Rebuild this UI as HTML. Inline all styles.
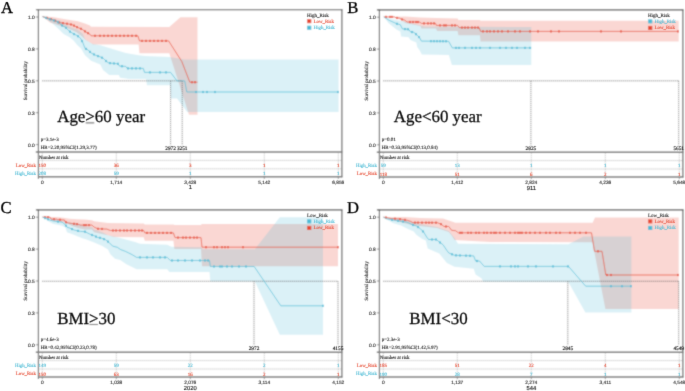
<!DOCTYPE html>
<html><head><meta charset="utf-8"><title>KM curves</title>
<style>html,body{margin:0;padding:0;background:#fff;}svg{display:block;text-rendering:geometricPrecision;}</style>
</head><body>
<svg width="685" height="391" viewBox="0 0 685 391">
<defs><filter id="bl" x="0" y="0" width="685" height="391" filterUnits="userSpaceOnUse"><feConvolveMatrix order="3" kernelMatrix="1 2 1 2 8 2 1 2 1" edgeMode="duplicate"/></filter><filter id="bl2" x="0" y="0" width="685" height="391" filterUnits="userSpaceOnUse"><feConvolveMatrix order="3" kernelMatrix="0 1 0 1 8 1 0 1 0" edgeMode="none" preserveAlpha="false"/></filter></defs>
<g filter="url(#bl)"><rect width="685" height="391" fill="#fff"/>
<g transform="translate(0,0)">
<line x1="35.8" y1="17.0" x2="38.4" y2="17.0" stroke="#555" stroke-width="0.6"/>
<line x1="35.8" y1="48.9" x2="38.4" y2="48.9" stroke="#555" stroke-width="0.6"/>
<line x1="35.8" y1="80.8" x2="38.4" y2="80.8" stroke="#555" stroke-width="0.6"/>
<line x1="35.8" y1="112.7" x2="38.4" y2="112.7" stroke="#555" stroke-width="0.6"/>
<line x1="35.8" y1="144.6" x2="38.4" y2="144.6" stroke="#555" stroke-width="0.6"/>
<polygon points="42.5,16.6 52.7,17.1 65.3,19.2 78.0,21.3 85.6,23.8 90.0,25.5 91.0,26.8 169.3,27.1 180.4,17.3 197.5,17.3 197.5,114.7 189.0,114.7 169.3,53.3 139.5,53.3 138.6,44.5 93.0,44.5 90.0,42.4 85.6,39.9 82.2,36.5 76.3,32.3 69.6,28.9 59.4,25.5 50.0,22.5 45.0,18.5 42.5,16.6" fill="#E64B35" fill-opacity="0.22"/>
<polygon points="42.5,16.6 52.7,18.8 59.4,20.4 64.0,23.5 69.6,26.8 78.0,29.7 83.0,34.0 85.0,39.2 92.0,43.8 100.3,45.3 115.7,50.0 125.7,53.0 138.7,55.3 145.0,56.0 169.3,57.1 184.7,59.5 338.6,59.5 338.6,112.0 187.2,112.0 177.0,98.4 171.0,98.4 170.0,85.3 147.0,85.3 146.0,79.1 128.0,79.1 125.7,78.5 120.0,77.7 118.9,75.1 109.2,74.9 103.0,70.0 100.3,64.5 91.1,60.7 85.0,55.3 81.0,48.5 77.2,45.0 73.8,40.7 69.6,37.3 63.6,34.0 59.4,29.7 52.7,23.8 45.1,18.3 42.5,16.6" fill="#4DBBD5" fill-opacity="0.2"/>
<line x1="42.3" y1="80.85" x2="182.1" y2="80.85" stroke="#444" stroke-width="0.75" stroke-dasharray="1 1"/>
<line x1="170.6" y1="80.85" x2="170.6" y2="145.3" stroke="#444" stroke-width="0.75" stroke-dasharray="1 1"/>
<line x1="182.2" y1="80.85" x2="182.2" y2="145.3" stroke="#444" stroke-width="0.75" stroke-dasharray="1 1"/>
<polyline points="42.5,16.6 48.4,18.3 52.7,19.6 59.4,22.6 65.3,23.4 72.1,24.7 78.0,27.6 82.2,29.3 85.6,31.8 89.9,34.2 91.1,35.8 137.9,35.8 139.5,40.9 168.6,40.9 181.8,61.5 189.8,82.2 197.5,82.2" fill="none" stroke="#E64B35" stroke-width="0.7" stroke-linejoin="round"/>
<rect x="46.25" y="16.80" width="1.5" height="2.2" fill="#E64B35"/>
<rect x="50.25" y="17.99" width="1.5" height="2.2" fill="#E64B35"/>
<rect x="54.25" y="19.53" width="1.5" height="2.2" fill="#E64B35"/>
<rect x="58.25" y="21.32" width="1.5" height="2.2" fill="#E64B35"/>
<rect x="62.25" y="21.99" width="1.5" height="2.2" fill="#E64B35"/>
<rect x="66.25" y="22.62" width="1.5" height="2.2" fill="#E64B35"/>
<rect x="70.25" y="23.39" width="1.5" height="2.2" fill="#E64B35"/>
<rect x="73.25" y="24.53" width="1.5" height="2.2" fill="#E64B35"/>
<rect x="76.25" y="26.01" width="1.5" height="2.2" fill="#E64B35"/>
<rect x="80.25" y="27.71" width="1.5" height="2.2" fill="#E64B35"/>
<rect x="84.25" y="30.26" width="1.5" height="2.2" fill="#E64B35"/>
<rect x="87.25" y="32.04" width="1.5" height="2.2" fill="#E64B35"/>
<rect x="94.25" y="34.70" width="1.5" height="2.2" fill="#E64B35"/>
<rect x="99.25" y="34.70" width="1.5" height="2.2" fill="#E64B35"/>
<rect x="103.25" y="34.70" width="1.5" height="2.2" fill="#E64B35"/>
<rect x="107.25" y="34.70" width="1.5" height="2.2" fill="#E64B35"/>
<rect x="111.25" y="34.70" width="1.5" height="2.2" fill="#E64B35"/>
<rect x="115.25" y="34.70" width="1.5" height="2.2" fill="#E64B35"/>
<rect x="119.25" y="34.70" width="1.5" height="2.2" fill="#E64B35"/>
<rect x="123.25" y="34.70" width="1.5" height="2.2" fill="#E64B35"/>
<rect x="127.25" y="34.70" width="1.5" height="2.2" fill="#E64B35"/>
<rect x="131.25" y="34.70" width="1.5" height="2.2" fill="#E64B35"/>
<rect x="135.25" y="34.70" width="1.5" height="2.2" fill="#E64B35"/>
<rect x="141.25" y="39.80" width="1.5" height="2.2" fill="#E64B35"/>
<rect x="145.25" y="39.80" width="1.5" height="2.2" fill="#E64B35"/>
<rect x="149.25" y="39.80" width="1.5" height="2.2" fill="#E64B35"/>
<rect x="153.25" y="39.80" width="1.5" height="2.2" fill="#E64B35"/>
<rect x="157.25" y="39.80" width="1.5" height="2.2" fill="#E64B35"/>
<rect x="161.25" y="39.80" width="1.5" height="2.2" fill="#E64B35"/>
<rect x="165.25" y="39.80" width="1.5" height="2.2" fill="#E64B35"/>
<rect x="191.25" y="81.10" width="1.5" height="2.2" fill="#E64B35"/>
<rect x="194.25" y="81.10" width="1.5" height="2.2" fill="#E64B35"/>
<polyline points="42.5,16.6 48.4,18.8 56.9,21.3 62.0,25.5 65.3,27.2 69.6,31.4 73.8,34.0 77.2,35.6 80.5,38.2 83.1,43.2 85.0,48.4 88.1,50.0 91.1,53.0 95.7,55.3 100.3,56.9 103.4,58.4 106.5,61.5 108.8,63.0 118.0,63.8 119.5,66.1 125.7,66.4 127.2,68.4 143.3,68.4 144.5,72.4 170.6,72.4 177.0,80.9 184.7,80.9 186.8,92.0 338.6,92.0" fill="none" stroke="#4DBBD5" stroke-width="0.7" stroke-linejoin="round"/>
<rect x="45.25" y="16.81" width="1.5" height="2.2" fill="#4DBBD5"/>
<rect x="49.25" y="18.17" width="1.5" height="2.2" fill="#4DBBD5"/>
<rect x="53.25" y="19.35" width="1.5" height="2.2" fill="#4DBBD5"/>
<rect x="57.25" y="21.11" width="1.5" height="2.2" fill="#4DBBD5"/>
<rect x="61.25" y="24.40" width="1.5" height="2.2" fill="#4DBBD5"/>
<rect x="65.25" y="26.78" width="1.5" height="2.2" fill="#4DBBD5"/>
<rect x="69.25" y="30.55" width="1.5" height="2.2" fill="#4DBBD5"/>
<rect x="73.25" y="32.99" width="1.5" height="2.2" fill="#4DBBD5"/>
<rect x="77.25" y="35.13" width="1.5" height="2.2" fill="#4DBBD5"/>
<rect x="81.25" y="39.98" width="1.5" height="2.2" fill="#4DBBD5"/>
<rect x="85.25" y="47.82" width="1.5" height="2.2" fill="#4DBBD5"/>
<rect x="89.25" y="50.80" width="1.5" height="2.2" fill="#4DBBD5"/>
<rect x="93.25" y="53.35" width="1.5" height="2.2" fill="#4DBBD5"/>
<rect x="97.25" y="55.00" width="1.5" height="2.2" fill="#4DBBD5"/>
<rect x="101.25" y="56.62" width="1.5" height="2.2" fill="#4DBBD5"/>
<rect x="105.25" y="59.90" width="1.5" height="2.2" fill="#4DBBD5"/>
<rect x="109.25" y="62.00" width="1.5" height="2.2" fill="#4DBBD5"/>
<rect x="113.25" y="62.35" width="1.5" height="2.2" fill="#4DBBD5"/>
<rect x="117.25" y="62.70" width="1.5" height="2.2" fill="#4DBBD5"/>
<rect x="121.25" y="65.12" width="1.5" height="2.2" fill="#4DBBD5"/>
<rect x="127.25" y="67.30" width="1.5" height="2.2" fill="#4DBBD5"/>
<rect x="131.25" y="67.30" width="1.5" height="2.2" fill="#4DBBD5"/>
<rect x="135.25" y="67.30" width="1.5" height="2.2" fill="#4DBBD5"/>
<rect x="139.25" y="67.30" width="1.5" height="2.2" fill="#4DBBD5"/>
<rect x="149.25" y="71.30" width="1.5" height="2.2" fill="#4DBBD5"/>
<rect x="159.25" y="71.30" width="1.5" height="2.2" fill="#4DBBD5"/>
<rect x="165.25" y="71.30" width="1.5" height="2.2" fill="#4DBBD5"/>
<rect x="195.25" y="90.90" width="1.5" height="2.2" fill="#4DBBD5"/>
<rect x="202.25" y="90.90" width="1.5" height="2.2" fill="#4DBBD5"/>
<rect x="206.25" y="90.90" width="1.5" height="2.2" fill="#4DBBD5"/>
<rect x="214.25" y="90.90" width="1.5" height="2.2" fill="#4DBBD5"/>
<rect x="337.25" y="90.90" width="1.5" height="2.2" fill="#4DBBD5"/>
<rect x="307.1" y="19.1" width="4.2" height="4.1" fill="#E64B35"/>
<rect x="307.1" y="25.7" width="4.2" height="4.1" fill="#4DBBD5"/>
<rect x="85.66" y="122.45" width="8.6" height="0.85" fill="#333"/>
<line x1="35.9" y1="9.7" x2="342.4" y2="9.7" stroke="#555" stroke-width="1.1"/>
<line x1="38.4" y1="9.2" x2="38.4" y2="178.8" stroke="#555" stroke-width="1.1"/>
<line x1="341.9" y1="9.2" x2="341.9" y2="177.3" stroke="#555" stroke-width="1.1"/>
<line x1="35.8" y1="152.0" x2="342.4" y2="152.0" stroke="#777" stroke-width="1.4"/>
<line x1="38.4" y1="176.8" x2="342.4" y2="176.8" stroke="#777" stroke-width="1.4"/>
<line x1="38.4" y1="160.4" x2="341.9" y2="160.4" stroke="#888" stroke-width="0.6" stroke-dasharray="1 1"/>
<line x1="38.4" y1="168.8" x2="341.9" y2="168.8" stroke="#888" stroke-width="0.6" stroke-dasharray="1 1"/>
<line x1="42.3" y1="152.6" x2="42.3" y2="176.2" stroke="#999" stroke-width="0.6" stroke-dasharray="1 1"/>
<line x1="42.3" y1="177.3" x2="42.3" y2="179.0" stroke="#555" stroke-width="0.6"/>
<line x1="116.3" y1="152.6" x2="116.3" y2="176.2" stroke="#999" stroke-width="0.6" stroke-dasharray="1 1"/>
<line x1="116.3" y1="177.3" x2="116.3" y2="179.0" stroke="#555" stroke-width="0.6"/>
<line x1="190.3" y1="152.6" x2="190.3" y2="176.2" stroke="#999" stroke-width="0.6" stroke-dasharray="1 1"/>
<line x1="190.3" y1="177.3" x2="190.3" y2="179.0" stroke="#555" stroke-width="0.6"/>
<line x1="264.3" y1="152.6" x2="264.3" y2="176.2" stroke="#999" stroke-width="0.6" stroke-dasharray="1 1"/>
<line x1="264.3" y1="177.3" x2="264.3" y2="179.0" stroke="#555" stroke-width="0.6"/>
<line x1="338.3" y1="152.6" x2="338.3" y2="176.2" stroke="#999" stroke-width="0.6" stroke-dasharray="1 1"/>
<line x1="338.3" y1="177.3" x2="338.3" y2="179.0" stroke="#555" stroke-width="0.6"/>
</g>
<g transform="translate(341.0,0.2)">
<line x1="35.8" y1="17.0" x2="38.4" y2="17.0" stroke="#555" stroke-width="0.6"/>
<line x1="35.8" y1="48.9" x2="38.4" y2="48.9" stroke="#555" stroke-width="0.6"/>
<line x1="35.8" y1="80.8" x2="38.4" y2="80.8" stroke="#555" stroke-width="0.6"/>
<line x1="35.8" y1="112.7" x2="38.4" y2="112.7" stroke="#555" stroke-width="0.6"/>
<line x1="35.8" y1="144.6" x2="38.4" y2="144.6" stroke="#555" stroke-width="0.6"/>
<polygon points="42.8,16.7 64.3,16.4 79.5,17.3 95.3,17.7 116.6,18.4 117.4,19.8 138.9,19.8 139.6,20.6 337.7,20.6 337.7,41.2 139.6,41.2 138.9,35.1 117.4,35.1 116.6,30.8 96.1,30.8 95.0,28.3 80.4,28.3 79.5,25.7 64.3,22.8 60.1,19.8 53.4,17.3 42.8,16.7" fill="#E64B35" fill-opacity="0.22"/>
<polygon points="42.8,16.7 47.4,18.1 55.9,19.8 64.3,21.5 79.5,25.3 84.0,26.3 190.3,26.8 190.3,64.9 110.9,64.9 107.8,54.7 80.8,54.3 78.5,49.7 76.2,46.7 75.3,42.2 69.4,39.7 67.7,37.1 60.1,36.3 59.3,31.2 55.9,29.5 51.7,26.2 47.4,22.8 44.9,19.4 42.8,16.7" fill="#4DBBD5" fill-opacity="0.2"/>
<line x1="42.3" y1="80.65" x2="337.7" y2="80.65" stroke="#444" stroke-width="0.75" stroke-dasharray="1 1"/>
<line x1="189.9" y1="80.65" x2="189.9" y2="145.3" stroke="#444" stroke-width="0.75" stroke-dasharray="1 1"/>
<line x1="337.7" y1="80.65" x2="337.7" y2="145.3" stroke="#444" stroke-width="0.75" stroke-dasharray="1 1"/>
<polyline points="42.8,16.7 53.4,16.7 55.0,17.7 58.4,17.9 60.1,19.0 63.5,19.8 65.2,21.1 66.0,21.8 76.2,21.8 78.7,21.9 80.4,23.2 94.6,23.2 95.3,25.2 116.6,25.2 118.2,27.4 138.1,27.4 139.6,31.2 337.7,31.2" fill="none" stroke="#E64B35" stroke-width="0.7" stroke-linejoin="round"/>
<rect x="44.25" y="15.60" width="1.5" height="2.2" fill="#E64B35"/>
<rect x="48.25" y="15.60" width="1.5" height="2.2" fill="#E64B35"/>
<rect x="50.25" y="15.60" width="1.5" height="2.2" fill="#E64B35"/>
<rect x="55.25" y="16.66" width="1.5" height="2.2" fill="#E64B35"/>
<rect x="60.25" y="18.11" width="1.5" height="2.2" fill="#E64B35"/>
<rect x="68.25" y="20.70" width="1.5" height="2.2" fill="#E64B35"/>
<rect x="71.25" y="20.70" width="1.5" height="2.2" fill="#E64B35"/>
<rect x="74.25" y="20.70" width="1.5" height="2.2" fill="#E64B35"/>
<rect x="76.25" y="20.73" width="1.5" height="2.2" fill="#E64B35"/>
<rect x="82.25" y="22.10" width="1.5" height="2.2" fill="#E64B35"/>
<rect x="86.25" y="22.10" width="1.5" height="2.2" fill="#E64B35"/>
<rect x="89.25" y="22.10" width="1.5" height="2.2" fill="#E64B35"/>
<rect x="92.25" y="22.10" width="1.5" height="2.2" fill="#E64B35"/>
<rect x="98.25" y="24.10" width="1.5" height="2.2" fill="#E64B35"/>
<rect x="102.25" y="24.10" width="1.5" height="2.2" fill="#E64B35"/>
<rect x="104.25" y="24.10" width="1.5" height="2.2" fill="#E64B35"/>
<rect x="110.25" y="24.10" width="1.5" height="2.2" fill="#E64B35"/>
<rect x="113.25" y="24.10" width="1.5" height="2.2" fill="#E64B35"/>
<rect x="120.25" y="26.30" width="1.5" height="2.2" fill="#E64B35"/>
<rect x="123.25" y="26.30" width="1.5" height="2.2" fill="#E64B35"/>
<rect x="126.25" y="26.30" width="1.5" height="2.2" fill="#E64B35"/>
<rect x="130.25" y="26.30" width="1.5" height="2.2" fill="#E64B35"/>
<rect x="133.25" y="26.30" width="1.5" height="2.2" fill="#E64B35"/>
<rect x="136.25" y="26.30" width="1.5" height="2.2" fill="#E64B35"/>
<rect x="141.25" y="30.10" width="1.5" height="2.2" fill="#E64B35"/>
<rect x="145.25" y="30.10" width="1.5" height="2.2" fill="#E64B35"/>
<rect x="148.25" y="30.10" width="1.5" height="2.2" fill="#E64B35"/>
<rect x="152.25" y="30.10" width="1.5" height="2.2" fill="#E64B35"/>
<rect x="156.25" y="30.10" width="1.5" height="2.2" fill="#E64B35"/>
<rect x="160.25" y="30.10" width="1.5" height="2.2" fill="#E64B35"/>
<rect x="166.25" y="30.10" width="1.5" height="2.2" fill="#E64B35"/>
<rect x="173.25" y="30.10" width="1.5" height="2.2" fill="#E64B35"/>
<rect x="178.25" y="30.10" width="1.5" height="2.2" fill="#E64B35"/>
<rect x="188.25" y="30.10" width="1.5" height="2.2" fill="#E64B35"/>
<rect x="196.25" y="30.10" width="1.5" height="2.2" fill="#E64B35"/>
<rect x="209.25" y="30.10" width="1.5" height="2.2" fill="#E64B35"/>
<rect x="217.25" y="30.10" width="1.5" height="2.2" fill="#E64B35"/>
<rect x="259.25" y="30.10" width="1.5" height="2.2" fill="#E64B35"/>
<rect x="279.25" y="30.10" width="1.5" height="2.2" fill="#E64B35"/>
<rect x="336.25" y="30.10" width="1.5" height="2.2" fill="#E64B35"/>
<polyline points="42.8,16.7 45.8,18.6 48.3,20.2 55.9,23.6 59.3,24.5 61.4,28.7 67.7,29.1 69.4,31.6 72.8,32.1 76.2,35.0 78.7,37.6 80.4,40.9 107.6,41.1 111.3,47.7 190.3,47.7" fill="none" stroke="#4DBBD5" stroke-width="0.7" stroke-linejoin="round"/>
<rect x="55.25" y="22.53" width="1.5" height="2.2" fill="#4DBBD5"/>
<rect x="63.25" y="27.77" width="1.5" height="2.2" fill="#4DBBD5"/>
<rect x="66.25" y="27.96" width="1.5" height="2.2" fill="#4DBBD5"/>
<rect x="70.25" y="30.74" width="1.5" height="2.2" fill="#4DBBD5"/>
<rect x="74.25" y="32.88" width="1.5" height="2.2" fill="#4DBBD5"/>
<rect x="77.25" y="35.77" width="1.5" height="2.2" fill="#4DBBD5"/>
<rect x="89.25" y="39.87" width="1.5" height="2.2" fill="#4DBBD5"/>
<rect x="92.25" y="39.89" width="1.5" height="2.2" fill="#4DBBD5"/>
<rect x="95.25" y="39.91" width="1.5" height="2.2" fill="#4DBBD5"/>
<rect x="98.25" y="39.94" width="1.5" height="2.2" fill="#4DBBD5"/>
<rect x="101.25" y="39.96" width="1.5" height="2.2" fill="#4DBBD5"/>
<rect x="104.25" y="39.98" width="1.5" height="2.2" fill="#4DBBD5"/>
<rect x="114.25" y="46.60" width="1.5" height="2.2" fill="#4DBBD5"/>
<rect x="117.25" y="46.60" width="1.5" height="2.2" fill="#4DBBD5"/>
<rect x="123.25" y="46.60" width="1.5" height="2.2" fill="#4DBBD5"/>
<rect x="130.25" y="46.60" width="1.5" height="2.2" fill="#4DBBD5"/>
<rect x="134.25" y="46.60" width="1.5" height="2.2" fill="#4DBBD5"/>
<rect x="138.25" y="46.60" width="1.5" height="2.2" fill="#4DBBD5"/>
<rect x="148.25" y="46.60" width="1.5" height="2.2" fill="#4DBBD5"/>
<rect x="158.25" y="46.60" width="1.5" height="2.2" fill="#4DBBD5"/>
<rect x="164.25" y="46.60" width="1.5" height="2.2" fill="#4DBBD5"/>
<rect x="170.25" y="46.60" width="1.5" height="2.2" fill="#4DBBD5"/>
<rect x="175.25" y="46.60" width="1.5" height="2.2" fill="#4DBBD5"/>
<rect x="183.25" y="46.60" width="1.5" height="2.2" fill="#4DBBD5"/>
<rect x="188.25" y="46.60" width="1.5" height="2.2" fill="#4DBBD5"/>
<rect x="307.1" y="19.1" width="4.2" height="4.1" fill="#4DBBD5"/>
<rect x="307.1" y="25.7" width="4.2" height="4.1" fill="#E64B35"/>
<line x1="35.9" y1="9.7" x2="342.4" y2="9.7" stroke="#555" stroke-width="1.1"/>
<line x1="38.4" y1="9.2" x2="38.4" y2="178.8" stroke="#555" stroke-width="1.1"/>
<line x1="341.9" y1="9.2" x2="341.9" y2="177.3" stroke="#555" stroke-width="1.1"/>
<line x1="35.8" y1="152.0" x2="342.4" y2="152.0" stroke="#777" stroke-width="1.4"/>
<line x1="38.4" y1="176.8" x2="342.4" y2="176.8" stroke="#777" stroke-width="1.4"/>
<line x1="38.4" y1="160.4" x2="341.9" y2="160.4" stroke="#888" stroke-width="0.6" stroke-dasharray="1 1"/>
<line x1="38.4" y1="168.8" x2="341.9" y2="168.8" stroke="#888" stroke-width="0.6" stroke-dasharray="1 1"/>
<line x1="42.3" y1="152.6" x2="42.3" y2="176.2" stroke="#999" stroke-width="0.6" stroke-dasharray="1 1"/>
<line x1="42.3" y1="177.3" x2="42.3" y2="179.0" stroke="#555" stroke-width="0.6"/>
<line x1="116.3" y1="152.6" x2="116.3" y2="176.2" stroke="#999" stroke-width="0.6" stroke-dasharray="1 1"/>
<line x1="116.3" y1="177.3" x2="116.3" y2="179.0" stroke="#555" stroke-width="0.6"/>
<line x1="190.3" y1="152.6" x2="190.3" y2="176.2" stroke="#999" stroke-width="0.6" stroke-dasharray="1 1"/>
<line x1="190.3" y1="177.3" x2="190.3" y2="179.0" stroke="#555" stroke-width="0.6"/>
<line x1="264.3" y1="152.6" x2="264.3" y2="176.2" stroke="#999" stroke-width="0.6" stroke-dasharray="1 1"/>
<line x1="264.3" y1="177.3" x2="264.3" y2="179.0" stroke="#555" stroke-width="0.6"/>
<line x1="338.3" y1="152.6" x2="338.3" y2="176.2" stroke="#999" stroke-width="0.6" stroke-dasharray="1 1"/>
<line x1="338.3" y1="177.3" x2="338.3" y2="179.0" stroke="#555" stroke-width="0.6"/>
</g>
<g transform="translate(0,200.2)">
<line x1="35.8" y1="17.0" x2="38.4" y2="17.0" stroke="#555" stroke-width="0.6"/>
<line x1="35.8" y1="48.9" x2="38.4" y2="48.9" stroke="#555" stroke-width="0.6"/>
<line x1="35.8" y1="80.8" x2="38.4" y2="80.8" stroke="#555" stroke-width="0.6"/>
<line x1="35.8" y1="112.7" x2="38.4" y2="112.7" stroke="#555" stroke-width="0.6"/>
<line x1="35.8" y1="144.6" x2="38.4" y2="144.6" stroke="#555" stroke-width="0.6"/>
<polygon points="42.5,16.9 56.9,16.9 65.3,17.7 69.6,18.6 78.0,19.0 85.0,19.4 91.9,20.0 94.2,21.1 108.0,22.9 143.7,23.4 144.8,24.2 173.4,24.2 174.4,24.8 201.0,24.8 201.7,23.8 338.0,23.8 338.0,66.0 202.0,66.0 201.0,48.7 174.4,48.7 173.4,40.5 144.8,40.5 143.7,37.0 113.8,36.7 108.0,35.0 94.2,32.1 91.9,29.4 85.0,29.2 78.0,27.8 72.0,25.8 65.3,22.3 56.0,21.3 50.0,18.3 42.5,16.9" fill="#E64B35" fill-opacity="0.22"/>
<polygon points="42.5,16.9 50.3,18.2 58.0,20.3 65.3,21.9 78.0,23.6 85.0,26.3 91.9,26.8 94.2,29.2 102.3,32.1 108.0,35.0 118.4,37.3 135.0,41.9 140.0,43.5 167.3,44.6 171.3,46.6 201.7,47.0 202.5,49.0 254.9,49.0 279.8,17.1 323.0,17.1 323.0,134.5 279.8,134.5 254.9,81.3 210.3,81.3 209.5,71.8 169.3,71.8 167.3,69.1 136.6,69.1 126.4,64.0 120.2,59.9 115.0,58.6 110.3,54.0 108.0,49.4 102.3,45.9 94.2,42.4 86.5,39.3 82.2,38.0 78.0,36.3 73.8,34.6 67.0,32.1 65.3,27.0 61.1,25.3 52.7,23.6 48.4,21.1 45.1,18.1 42.5,16.9" fill="#4DBBD5" fill-opacity="0.2"/>
<line x1="42.3" y1="81.05" x2="338.0" y2="81.05" stroke="#444" stroke-width="0.75" stroke-dasharray="1 1"/>
<line x1="254.0" y1="81.05" x2="254.0" y2="145.3" stroke="#444" stroke-width="0.75" stroke-dasharray="1 1"/>
<line x1="338.0" y1="81.05" x2="338.0" y2="145.3" stroke="#444" stroke-width="0.75" stroke-dasharray="1 1"/>
<polyline points="42.5,16.9 50.1,16.9 51.0,19.0 56.9,19.0 57.7,19.4 64.5,19.8 65.3,21.9 68.7,22.8 73.8,23.6 78.0,24.0 80.5,24.9 91.9,24.9 94.2,26.9 97.7,28.6 106.9,28.9 110.3,30.3 143.7,30.3 144.8,32.7 173.4,32.7 175.0,37.4 201.0,37.4 202.0,47.0 338.0,47.0" fill="none" stroke="#E64B35" stroke-width="0.7" stroke-linejoin="round"/>
<rect x="44.25" y="15.80" width="1.5" height="2.2" fill="#E64B35"/>
<rect x="47.25" y="15.80" width="1.5" height="2.2" fill="#E64B35"/>
<rect x="53.25" y="17.90" width="1.5" height="2.2" fill="#E64B35"/>
<rect x="59.25" y="18.44" width="1.5" height="2.2" fill="#E64B35"/>
<rect x="65.25" y="20.99" width="1.5" height="2.2" fill="#E64B35"/>
<rect x="73.25" y="22.52" width="1.5" height="2.2" fill="#E64B35"/>
<rect x="76.25" y="22.80" width="1.5" height="2.2" fill="#E64B35"/>
<rect x="83.25" y="23.80" width="1.5" height="2.2" fill="#E64B35"/>
<rect x="85.25" y="23.80" width="1.5" height="2.2" fill="#E64B35"/>
<rect x="88.25" y="23.80" width="1.5" height="2.2" fill="#E64B35"/>
<rect x="97.25" y="27.51" width="1.5" height="2.2" fill="#E64B35"/>
<rect x="101.25" y="27.64" width="1.5" height="2.2" fill="#E64B35"/>
<rect x="112.25" y="29.20" width="1.5" height="2.2" fill="#E64B35"/>
<rect x="115.25" y="29.20" width="1.5" height="2.2" fill="#E64B35"/>
<rect x="119.25" y="29.20" width="1.5" height="2.2" fill="#E64B35"/>
<rect x="123.25" y="29.20" width="1.5" height="2.2" fill="#E64B35"/>
<rect x="126.25" y="29.20" width="1.5" height="2.2" fill="#E64B35"/>
<rect x="130.25" y="29.20" width="1.5" height="2.2" fill="#E64B35"/>
<rect x="134.25" y="29.20" width="1.5" height="2.2" fill="#E64B35"/>
<rect x="138.25" y="29.20" width="1.5" height="2.2" fill="#E64B35"/>
<rect x="141.25" y="29.20" width="1.5" height="2.2" fill="#E64B35"/>
<rect x="146.25" y="31.60" width="1.5" height="2.2" fill="#E64B35"/>
<rect x="150.25" y="31.60" width="1.5" height="2.2" fill="#E64B35"/>
<rect x="154.25" y="31.60" width="1.5" height="2.2" fill="#E64B35"/>
<rect x="158.25" y="31.60" width="1.5" height="2.2" fill="#E64B35"/>
<rect x="162.25" y="31.60" width="1.5" height="2.2" fill="#E64B35"/>
<rect x="166.25" y="31.60" width="1.5" height="2.2" fill="#E64B35"/>
<rect x="170.25" y="31.60" width="1.5" height="2.2" fill="#E64B35"/>
<rect x="177.25" y="36.30" width="1.5" height="2.2" fill="#E64B35"/>
<rect x="182.25" y="36.30" width="1.5" height="2.2" fill="#E64B35"/>
<rect x="185.25" y="36.30" width="1.5" height="2.2" fill="#E64B35"/>
<rect x="189.25" y="36.30" width="1.5" height="2.2" fill="#E64B35"/>
<rect x="193.25" y="36.30" width="1.5" height="2.2" fill="#E64B35"/>
<rect x="196.25" y="36.30" width="1.5" height="2.2" fill="#E64B35"/>
<rect x="205.25" y="45.90" width="1.5" height="2.2" fill="#E64B35"/>
<rect x="213.25" y="45.90" width="1.5" height="2.2" fill="#E64B35"/>
<rect x="216.25" y="45.90" width="1.5" height="2.2" fill="#E64B35"/>
<rect x="221.25" y="45.90" width="1.5" height="2.2" fill="#E64B35"/>
<rect x="224.25" y="45.90" width="1.5" height="2.2" fill="#E64B35"/>
<rect x="227.25" y="45.90" width="1.5" height="2.2" fill="#E64B35"/>
<rect x="242.25" y="45.90" width="1.5" height="2.2" fill="#E64B35"/>
<rect x="337.25" y="45.90" width="1.5" height="2.2" fill="#E64B35"/>
<polyline points="42.5,16.9 46.8,18.6 51.0,20.2 55.2,21.1 62.0,21.9 65.3,24.5 67.0,27.0 69.6,27.8 74.6,30.0 80.5,31.2 85.0,31.5 90.8,34.4 94.2,35.5 97.7,37.3 101.1,37.8 105.7,39.6 109.2,42.4 112.6,45.9 117.3,47.1 120.7,49.4 125.3,51.1 128.8,52.8 132.2,54.5 136.6,57.2 167.3,57.2 170.3,60.3 209.5,60.3 210.3,66.3 254.2,66.3 280.8,105.6 323.0,105.6" fill="none" stroke="#4DBBD5" stroke-width="0.7" stroke-linejoin="round"/>
<rect x="44.25" y="16.79" width="1.5" height="2.2" fill="#4DBBD5"/>
<rect x="47.25" y="17.96" width="1.5" height="2.2" fill="#4DBBD5"/>
<rect x="57.25" y="20.33" width="1.5" height="2.2" fill="#4DBBD5"/>
<rect x="65.25" y="24.43" width="1.5" height="2.2" fill="#4DBBD5"/>
<rect x="71.25" y="27.76" width="1.5" height="2.2" fill="#4DBBD5"/>
<rect x="77.25" y="29.59" width="1.5" height="2.2" fill="#4DBBD5"/>
<rect x="84.25" y="30.40" width="1.5" height="2.2" fill="#4DBBD5"/>
<rect x="91.25" y="33.69" width="1.5" height="2.2" fill="#4DBBD5"/>
<rect x="95.25" y="35.33" width="1.5" height="2.2" fill="#4DBBD5"/>
<rect x="99.25" y="36.54" width="1.5" height="2.2" fill="#4DBBD5"/>
<rect x="103.25" y="37.83" width="1.5" height="2.2" fill="#4DBBD5"/>
<rect x="107.25" y="40.34" width="1.5" height="2.2" fill="#4DBBD5"/>
<rect x="139.25" y="56.10" width="1.5" height="2.2" fill="#4DBBD5"/>
<rect x="146.25" y="56.10" width="1.5" height="2.2" fill="#4DBBD5"/>
<rect x="152.25" y="56.10" width="1.5" height="2.2" fill="#4DBBD5"/>
<rect x="159.25" y="56.10" width="1.5" height="2.2" fill="#4DBBD5"/>
<rect x="164.25" y="56.10" width="1.5" height="2.2" fill="#4DBBD5"/>
<rect x="171.25" y="59.20" width="1.5" height="2.2" fill="#4DBBD5"/>
<rect x="177.25" y="59.20" width="1.5" height="2.2" fill="#4DBBD5"/>
<rect x="184.25" y="59.20" width="1.5" height="2.2" fill="#4DBBD5"/>
<rect x="191.25" y="59.20" width="1.5" height="2.2" fill="#4DBBD5"/>
<rect x="199.25" y="59.20" width="1.5" height="2.2" fill="#4DBBD5"/>
<rect x="204.25" y="59.20" width="1.5" height="2.2" fill="#4DBBD5"/>
<rect x="207.25" y="59.20" width="1.5" height="2.2" fill="#4DBBD5"/>
<rect x="213.25" y="65.20" width="1.5" height="2.2" fill="#4DBBD5"/>
<rect x="219.25" y="65.20" width="1.5" height="2.2" fill="#4DBBD5"/>
<rect x="221.25" y="65.20" width="1.5" height="2.2" fill="#4DBBD5"/>
<rect x="226.25" y="65.20" width="1.5" height="2.2" fill="#4DBBD5"/>
<rect x="231.25" y="65.20" width="1.5" height="2.2" fill="#4DBBD5"/>
<rect x="238.25" y="65.20" width="1.5" height="2.2" fill="#4DBBD5"/>
<rect x="245.25" y="65.20" width="1.5" height="2.2" fill="#4DBBD5"/>
<rect x="322.25" y="104.50" width="1.5" height="2.2" fill="#4DBBD5"/>
<rect x="307.1" y="19.1" width="4.2" height="4.1" fill="#4DBBD5"/>
<rect x="307.1" y="25.7" width="4.2" height="4.1" fill="#E64B35"/>
<rect x="89.43" y="123.95" width="8.6" height="0.85" fill="#333"/>
<line x1="35.9" y1="9.7" x2="342.4" y2="9.7" stroke="#555" stroke-width="1.1"/>
<line x1="38.4" y1="9.2" x2="38.4" y2="178.8" stroke="#555" stroke-width="1.1"/>
<line x1="341.9" y1="9.2" x2="341.9" y2="177.3" stroke="#555" stroke-width="1.1"/>
<line x1="35.8" y1="152.0" x2="342.4" y2="152.0" stroke="#777" stroke-width="1.4"/>
<line x1="38.4" y1="176.8" x2="342.4" y2="176.8" stroke="#777" stroke-width="1.4"/>
<line x1="38.4" y1="160.4" x2="341.9" y2="160.4" stroke="#888" stroke-width="0.6" stroke-dasharray="1 1"/>
<line x1="38.4" y1="168.8" x2="341.9" y2="168.8" stroke="#888" stroke-width="0.6" stroke-dasharray="1 1"/>
<line x1="42.3" y1="152.6" x2="42.3" y2="176.2" stroke="#999" stroke-width="0.6" stroke-dasharray="1 1"/>
<line x1="42.3" y1="177.3" x2="42.3" y2="179.0" stroke="#555" stroke-width="0.6"/>
<line x1="116.3" y1="152.6" x2="116.3" y2="176.2" stroke="#999" stroke-width="0.6" stroke-dasharray="1 1"/>
<line x1="116.3" y1="177.3" x2="116.3" y2="179.0" stroke="#555" stroke-width="0.6"/>
<line x1="190.3" y1="152.6" x2="190.3" y2="176.2" stroke="#999" stroke-width="0.6" stroke-dasharray="1 1"/>
<line x1="190.3" y1="177.3" x2="190.3" y2="179.0" stroke="#555" stroke-width="0.6"/>
<line x1="264.3" y1="152.6" x2="264.3" y2="176.2" stroke="#999" stroke-width="0.6" stroke-dasharray="1 1"/>
<line x1="264.3" y1="177.3" x2="264.3" y2="179.0" stroke="#555" stroke-width="0.6"/>
<line x1="338.3" y1="152.6" x2="338.3" y2="176.2" stroke="#999" stroke-width="0.6" stroke-dasharray="1 1"/>
<line x1="338.3" y1="177.3" x2="338.3" y2="179.0" stroke="#555" stroke-width="0.6"/>
</g>
<g transform="translate(341.0,200.2)">
<line x1="35.8" y1="17.0" x2="38.4" y2="17.0" stroke="#555" stroke-width="0.6"/>
<line x1="35.8" y1="48.9" x2="38.4" y2="48.9" stroke="#555" stroke-width="0.6"/>
<line x1="35.8" y1="80.8" x2="38.4" y2="80.8" stroke="#555" stroke-width="0.6"/>
<line x1="35.8" y1="112.7" x2="38.4" y2="112.7" stroke="#555" stroke-width="0.6"/>
<line x1="35.8" y1="144.6" x2="38.4" y2="144.6" stroke="#555" stroke-width="0.6"/>
<polygon points="42.4,17.0 64.3,16.9 79.0,17.7 102.0,18.3 114.5,22.5 251.6,22.5 254.0,17.2 337.7,17.2 337.7,108.8 264.4,108.8 251.5,42.0 149.0,41.7 113.5,39.8 111.0,35.8 107.8,31.8 96.0,27.8 79.0,25.8 71.0,24.8 61.0,22.3 51.0,19.3 42.4,17.0" fill="#E64B35" fill-opacity="0.22"/>
<polygon points="42.4,17.0 55.9,19.0 68.6,21.1 79.0,23.8 96.0,26.8 107.8,30.8 113.5,37.8 117.0,43.6 227.5,44.1 242.4,36.3 290.4,36.3 290.4,112.4 244.4,112.4 227.5,82.1 142.3,81.6 140.4,78.1 134.6,74.3 132.7,68.5 113.5,66.6 105.9,62.8 98.2,53.2 86.7,48.4 84.8,40.3 81.2,38.8 75.3,34.6 72.8,31.2 66.9,28.7 60.1,25.3 51.7,22.8 45.8,19.4 42.4,17.0" fill="#4DBBD5" fill-opacity="0.2"/>
<line x1="42.3" y1="81.05" x2="337.7" y2="81.05" stroke="#444" stroke-width="0.75" stroke-dasharray="1 1"/>
<line x1="226.8" y1="81.05" x2="226.8" y2="145.3" stroke="#444" stroke-width="0.75" stroke-dasharray="1 1"/>
<line x1="337.7" y1="81.05" x2="337.7" y2="145.3" stroke="#444" stroke-width="0.75" stroke-dasharray="1 1"/>
<polyline points="42.4,17.0 44.9,17.3 50.8,18.4 55.9,18.6 60.1,19.0 66.9,20.2 69.4,21.1 71.9,22.4 96.3,22.5 100.1,24.0 103.0,26.3 107.8,26.3 110.6,30.1 114.5,30.5 117.4,32.6 250.5,32.6 253.5,51.1 261.0,51.1 264.8,74.8 337.7,74.8" fill="none" stroke="#E64B35" stroke-width="0.7" stroke-linejoin="round"/>
<rect x="44.25" y="16.22" width="1.5" height="2.2" fill="#E64B35"/>
<rect x="53.25" y="17.43" width="1.5" height="2.2" fill="#E64B35"/>
<rect x="58.25" y="17.80" width="1.5" height="2.2" fill="#E64B35"/>
<rect x="63.25" y="18.59" width="1.5" height="2.2" fill="#E64B35"/>
<rect x="73.25" y="21.31" width="1.5" height="2.2" fill="#E64B35"/>
<rect x="76.25" y="21.32" width="1.5" height="2.2" fill="#E64B35"/>
<rect x="80.25" y="21.34" width="1.5" height="2.2" fill="#E64B35"/>
<rect x="84.25" y="21.35" width="1.5" height="2.2" fill="#E64B35"/>
<rect x="87.25" y="21.37" width="1.5" height="2.2" fill="#E64B35"/>
<rect x="90.25" y="21.38" width="1.5" height="2.2" fill="#E64B35"/>
<rect x="94.25" y="21.39" width="1.5" height="2.2" fill="#E64B35"/>
<rect x="99.25" y="22.86" width="1.5" height="2.2" fill="#E64B35"/>
<rect x="104.25" y="25.20" width="1.5" height="2.2" fill="#E64B35"/>
<rect x="118.25" y="31.50" width="1.5" height="2.2" fill="#E64B35"/>
<rect x="120.25" y="31.50" width="1.5" height="2.2" fill="#E64B35"/>
<rect x="126.25" y="31.50" width="1.5" height="2.2" fill="#E64B35"/>
<rect x="129.25" y="31.50" width="1.5" height="2.2" fill="#E64B35"/>
<rect x="134.25" y="31.50" width="1.5" height="2.2" fill="#E64B35"/>
<rect x="137.25" y="31.50" width="1.5" height="2.2" fill="#E64B35"/>
<rect x="142.25" y="31.50" width="1.5" height="2.2" fill="#E64B35"/>
<rect x="145.25" y="31.50" width="1.5" height="2.2" fill="#E64B35"/>
<rect x="149.25" y="31.50" width="1.5" height="2.2" fill="#E64B35"/>
<rect x="152.25" y="31.50" width="1.5" height="2.2" fill="#E64B35"/>
<rect x="154.25" y="31.50" width="1.5" height="2.2" fill="#E64B35"/>
<rect x="158.25" y="31.50" width="1.5" height="2.2" fill="#E64B35"/>
<rect x="163.25" y="31.50" width="1.5" height="2.2" fill="#E64B35"/>
<rect x="168.25" y="31.50" width="1.5" height="2.2" fill="#E64B35"/>
<rect x="173.25" y="31.50" width="1.5" height="2.2" fill="#E64B35"/>
<rect x="176.25" y="31.50" width="1.5" height="2.2" fill="#E64B35"/>
<rect x="178.25" y="31.50" width="1.5" height="2.2" fill="#E64B35"/>
<rect x="180.25" y="31.50" width="1.5" height="2.2" fill="#E64B35"/>
<rect x="184.25" y="31.50" width="1.5" height="2.2" fill="#E64B35"/>
<rect x="188.25" y="31.50" width="1.5" height="2.2" fill="#E64B35"/>
<rect x="193.25" y="31.50" width="1.5" height="2.2" fill="#E64B35"/>
<rect x="198.25" y="31.50" width="1.5" height="2.2" fill="#E64B35"/>
<rect x="204.25" y="31.50" width="1.5" height="2.2" fill="#E64B35"/>
<rect x="208.25" y="31.50" width="1.5" height="2.2" fill="#E64B35"/>
<rect x="214.25" y="31.50" width="1.5" height="2.2" fill="#E64B35"/>
<rect x="218.25" y="31.50" width="1.5" height="2.2" fill="#E64B35"/>
<rect x="228.25" y="31.50" width="1.5" height="2.2" fill="#E64B35"/>
<rect x="233.25" y="31.50" width="1.5" height="2.2" fill="#E64B35"/>
<rect x="238.25" y="31.50" width="1.5" height="2.2" fill="#E64B35"/>
<rect x="244.25" y="31.50" width="1.5" height="2.2" fill="#E64B35"/>
<rect x="256.25" y="50.00" width="1.5" height="2.2" fill="#E64B35"/>
<rect x="265.25" y="73.70" width="1.5" height="2.2" fill="#E64B35"/>
<rect x="269.25" y="73.70" width="1.5" height="2.2" fill="#E64B35"/>
<rect x="336.25" y="73.70" width="1.5" height="2.2" fill="#E64B35"/>
<polyline points="42.4,17.0 45.8,18.6 51.7,19.8 60.1,21.1 65.2,21.9 67.7,22.8 71.1,24.5 75.3,25.7 79.0,28.2 82.8,32.1 85.7,36.9 87.6,39.3 95.3,39.3 98.2,41.7 102.0,44.5 105.9,50.3 107.8,52.8 113.5,55.1 132.7,55.7 134.6,60.8 138.5,60.8 143.2,66.2 227.5,66.2 244.7,86.0 290.4,86.0" fill="none" stroke="#4DBBD5" stroke-width="0.7" stroke-linejoin="round"/>
<rect x="50.25" y="18.56" width="1.5" height="2.2" fill="#4DBBD5"/>
<rect x="56.25" y="19.52" width="1.5" height="2.2" fill="#4DBBD5"/>
<rect x="61.25" y="20.30" width="1.5" height="2.2" fill="#4DBBD5"/>
<rect x="71.25" y="23.66" width="1.5" height="2.2" fill="#4DBBD5"/>
<rect x="76.25" y="25.75" width="1.5" height="2.2" fill="#4DBBD5"/>
<rect x="81.25" y="30.18" width="1.5" height="2.2" fill="#4DBBD5"/>
<rect x="90.25" y="38.20" width="1.5" height="2.2" fill="#4DBBD5"/>
<rect x="94.25" y="38.20" width="1.5" height="2.2" fill="#4DBBD5"/>
<rect x="98.25" y="41.19" width="1.5" height="2.2" fill="#4DBBD5"/>
<rect x="110.25" y="52.99" width="1.5" height="2.2" fill="#4DBBD5"/>
<rect x="114.25" y="54.05" width="1.5" height="2.2" fill="#4DBBD5"/>
<rect x="118.25" y="54.17" width="1.5" height="2.2" fill="#4DBBD5"/>
<rect x="124.25" y="54.36" width="1.5" height="2.2" fill="#4DBBD5"/>
<rect x="128.25" y="54.48" width="1.5" height="2.2" fill="#4DBBD5"/>
<rect x="135.25" y="59.70" width="1.5" height="2.2" fill="#4DBBD5"/>
<rect x="158.25" y="65.10" width="1.5" height="2.2" fill="#4DBBD5"/>
<rect x="169.25" y="65.10" width="1.5" height="2.2" fill="#4DBBD5"/>
<rect x="173.25" y="65.10" width="1.5" height="2.2" fill="#4DBBD5"/>
<rect x="176.25" y="65.10" width="1.5" height="2.2" fill="#4DBBD5"/>
<rect x="186.25" y="65.10" width="1.5" height="2.2" fill="#4DBBD5"/>
<rect x="194.25" y="65.10" width="1.5" height="2.2" fill="#4DBBD5"/>
<rect x="211.25" y="65.10" width="1.5" height="2.2" fill="#4DBBD5"/>
<rect x="226.25" y="65.10" width="1.5" height="2.2" fill="#4DBBD5"/>
<rect x="269.25" y="84.90" width="1.5" height="2.2" fill="#4DBBD5"/>
<rect x="280.25" y="84.90" width="1.5" height="2.2" fill="#4DBBD5"/>
<rect x="289.25" y="84.90" width="1.5" height="2.2" fill="#4DBBD5"/>
<rect x="307.1" y="19.1" width="4.2" height="4.1" fill="#E64B35"/>
<rect x="307.1" y="25.7" width="4.2" height="4.1" fill="#4DBBD5"/>
<line x1="35.9" y1="9.7" x2="342.4" y2="9.7" stroke="#555" stroke-width="1.1"/>
<line x1="38.4" y1="9.2" x2="38.4" y2="178.8" stroke="#555" stroke-width="1.1"/>
<line x1="341.9" y1="9.2" x2="341.9" y2="177.3" stroke="#555" stroke-width="1.1"/>
<line x1="35.8" y1="152.0" x2="342.4" y2="152.0" stroke="#777" stroke-width="1.4"/>
<line x1="38.4" y1="176.8" x2="342.4" y2="176.8" stroke="#777" stroke-width="1.4"/>
<line x1="38.4" y1="160.4" x2="341.9" y2="160.4" stroke="#888" stroke-width="0.6" stroke-dasharray="1 1"/>
<line x1="38.4" y1="168.8" x2="341.9" y2="168.8" stroke="#888" stroke-width="0.6" stroke-dasharray="1 1"/>
<line x1="42.3" y1="152.6" x2="42.3" y2="176.2" stroke="#999" stroke-width="0.6" stroke-dasharray="1 1"/>
<line x1="42.3" y1="177.3" x2="42.3" y2="179.0" stroke="#555" stroke-width="0.6"/>
<line x1="116.3" y1="152.6" x2="116.3" y2="176.2" stroke="#999" stroke-width="0.6" stroke-dasharray="1 1"/>
<line x1="116.3" y1="177.3" x2="116.3" y2="179.0" stroke="#555" stroke-width="0.6"/>
<line x1="190.3" y1="152.6" x2="190.3" y2="176.2" stroke="#999" stroke-width="0.6" stroke-dasharray="1 1"/>
<line x1="190.3" y1="177.3" x2="190.3" y2="179.0" stroke="#555" stroke-width="0.6"/>
<line x1="264.3" y1="152.6" x2="264.3" y2="176.2" stroke="#999" stroke-width="0.6" stroke-dasharray="1 1"/>
<line x1="264.3" y1="177.3" x2="264.3" y2="179.0" stroke="#555" stroke-width="0.6"/>
<line x1="338.3" y1="152.6" x2="338.3" y2="176.2" stroke="#999" stroke-width="0.6" stroke-dasharray="1 1"/>
<line x1="338.3" y1="177.3" x2="338.3" y2="179.0" stroke="#555" stroke-width="0.6"/>
</g>
</g>
<g filter="url(#bl2)">
<g transform="translate(0,0)">
<text x="0.90" y="12.70" font-size="16.6" fill="#000" stroke="#000" stroke-width="0.3" font-family="'Liberation Serif', serif" text-anchor="start" >A</text>
<text x="34.60" y="18.90" font-size="4.8" fill="#333" stroke="#333" stroke-width="0.14" font-family="'Liberation Sans', sans-serif" text-anchor="end" >1.0</text>
<text x="34.60" y="50.80" font-size="4.8" fill="#333" stroke="#333" stroke-width="0.14" font-family="'Liberation Sans', sans-serif" text-anchor="end" >0.8</text>
<text x="34.60" y="82.70" font-size="4.8" fill="#333" stroke="#333" stroke-width="0.14" font-family="'Liberation Sans', sans-serif" text-anchor="end" >0.5</text>
<text x="34.60" y="114.60" font-size="4.8" fill="#333" stroke="#333" stroke-width="0.14" font-family="'Liberation Sans', sans-serif" text-anchor="end" >0.3</text>
<text x="34.60" y="146.50" font-size="4.8" fill="#333" stroke="#333" stroke-width="0.14" font-family="'Liberation Sans', sans-serif" text-anchor="end" >0.0</text>
<text x="0" y="0" font-size="4.9" fill="#333" font-family="'Liberation Serif', serif" text-anchor="middle" transform="translate(26.6,80.6) rotate(-90)" stroke="#333" stroke-width="0.12">Survival probability</text>
<text x="170.60" y="149.80" font-size="5.3" fill="#222" stroke="#222" stroke-width="0.16" font-family="'Liberation Serif', serif" text-anchor="middle" >2972</text>
<text x="182.20" y="149.80" font-size="5.3" fill="#222" stroke="#222" stroke-width="0.16" font-family="'Liberation Serif', serif" text-anchor="middle" >3251</text>
<text x="307.00" y="17.00" font-size="5.0" fill="#222" stroke="#222" stroke-width="0.12" font-family="'Liberation Serif', serif" text-anchor="start" >High_Risk</text>
<text x="313.60" y="22.60" font-size="4.9" fill="#E64B35" stroke="#E64B35" stroke-width="0.12" font-family="'Liberation Serif', serif" text-anchor="start" >Low_Risk</text>
<text x="313.60" y="29.20" font-size="4.9" fill="#4DBBD5" stroke="#4DBBD5" stroke-width="0.12" font-family="'Liberation Serif', serif" text-anchor="start" >High_Risk</text>
<text x="57.20" y="122.20" font-size="16.9" fill="#111" stroke="#111" stroke-width="0.3" font-family="'Liberation Serif', serif" text-anchor="start" >Age&gt;60 year</text>
<text x="40.70" y="140.80" font-size="5.0" fill="#222" stroke="#222" stroke-width="0.12" font-family="'Liberation Serif', serif" text-anchor="start" >p=3.1e-3</text>
<text x="40.70" y="148.90" font-size="5.0" fill="#222" stroke="#222" stroke-width="0.12" font-family="'Liberation Serif', serif" text-anchor="start" >HR=2.20,95%CI(1.29,3.77)</text>
<text x="39.00" y="158.60" font-size="4.9" fill="#111" stroke="#111" stroke-width="0.12" font-family="'Liberation Serif', serif" text-anchor="start" >Number at risk</text>
<text x="35.80" y="167.00" font-size="4.8" fill="#E64B35" stroke="#E64B35" stroke-width="0.12" font-family="'Liberation Serif', serif" text-anchor="end" >Low_Risk</text>
<text x="42.30" y="167.10" font-size="5.0" fill="#E64B35" stroke="#E64B35" stroke-width="0.12" font-family="'Liberation Serif', serif" text-anchor="middle" >150</text>
<text x="116.30" y="167.10" font-size="5.0" fill="#E64B35" stroke="#E64B35" stroke-width="0.12" font-family="'Liberation Serif', serif" text-anchor="middle" >36</text>
<text x="190.30" y="167.10" font-size="5.0" fill="#E64B35" stroke="#E64B35" stroke-width="0.12" font-family="'Liberation Serif', serif" text-anchor="middle" >3</text>
<text x="264.30" y="167.10" font-size="5.0" fill="#E64B35" stroke="#E64B35" stroke-width="0.12" font-family="'Liberation Serif', serif" text-anchor="middle" >1</text>
<text x="338.30" y="167.10" font-size="5.0" fill="#E64B35" stroke="#E64B35" stroke-width="0.12" font-family="'Liberation Serif', serif" text-anchor="middle" >1</text>
<text x="35.80" y="175.30" font-size="4.8" fill="#4DBBD5" stroke="#4DBBD5" stroke-width="0.12" font-family="'Liberation Serif', serif" text-anchor="end" >High_Risk</text>
<text x="42.30" y="175.40" font-size="5.0" fill="#4DBBD5" stroke="#4DBBD5" stroke-width="0.12" font-family="'Liberation Serif', serif" text-anchor="middle" >208</text>
<text x="116.30" y="175.40" font-size="5.0" fill="#4DBBD5" stroke="#4DBBD5" stroke-width="0.12" font-family="'Liberation Serif', serif" text-anchor="middle" >59</text>
<text x="190.30" y="175.40" font-size="5.0" fill="#4DBBD5" stroke="#4DBBD5" stroke-width="0.12" font-family="'Liberation Serif', serif" text-anchor="middle" >1</text>
<text x="264.30" y="175.40" font-size="5.0" fill="#4DBBD5" stroke="#4DBBD5" stroke-width="0.12" font-family="'Liberation Serif', serif" text-anchor="middle" >1</text>
<text x="338.30" y="175.40" font-size="5.0" fill="#4DBBD5" stroke="#4DBBD5" stroke-width="0.12" font-family="'Liberation Serif', serif" text-anchor="middle" >1</text>
<text x="42.30" y="184.30" font-size="4.8" fill="#333" stroke="#333" stroke-width="0.14" font-family="'Liberation Sans', sans-serif" text-anchor="middle" >0</text>
<text x="116.30" y="184.30" font-size="4.8" fill="#333" stroke="#333" stroke-width="0.14" font-family="'Liberation Sans', sans-serif" text-anchor="middle" >1,714</text>
<text x="190.30" y="184.30" font-size="4.8" fill="#333" stroke="#333" stroke-width="0.14" font-family="'Liberation Sans', sans-serif" text-anchor="middle" >3,428</text>
<text x="264.30" y="184.30" font-size="4.8" fill="#333" stroke="#333" stroke-width="0.14" font-family="'Liberation Sans', sans-serif" text-anchor="middle" >5,142</text>
<text x="338.30" y="184.30" font-size="4.8" fill="#333" stroke="#333" stroke-width="0.14" font-family="'Liberation Sans', sans-serif" text-anchor="middle" >6,856</text>
<text x="190.30" y="189.40" font-size="5.8" fill="#222" stroke="#222" stroke-width="0.14" font-family="'Liberation Sans', sans-serif" text-anchor="middle" >1</text>
</g>
<g transform="translate(341.0,0.2)">
<text x="6.30" y="12.60" font-size="16.6" fill="#000" stroke="#000" stroke-width="0.3" font-family="'Liberation Serif', serif" text-anchor="start" >B</text>
<text x="34.60" y="18.90" font-size="4.8" fill="#333" stroke="#333" stroke-width="0.14" font-family="'Liberation Sans', sans-serif" text-anchor="end" >1.0</text>
<text x="34.60" y="50.80" font-size="4.8" fill="#333" stroke="#333" stroke-width="0.14" font-family="'Liberation Sans', sans-serif" text-anchor="end" >0.8</text>
<text x="34.60" y="82.70" font-size="4.8" fill="#333" stroke="#333" stroke-width="0.14" font-family="'Liberation Sans', sans-serif" text-anchor="end" >0.5</text>
<text x="34.60" y="114.60" font-size="4.8" fill="#333" stroke="#333" stroke-width="0.14" font-family="'Liberation Sans', sans-serif" text-anchor="end" >0.3</text>
<text x="34.60" y="146.50" font-size="4.8" fill="#333" stroke="#333" stroke-width="0.14" font-family="'Liberation Sans', sans-serif" text-anchor="end" >0.0</text>
<text x="0" y="0" font-size="4.9" fill="#333" font-family="'Liberation Serif', serif" text-anchor="middle" transform="translate(26.6,80.6) rotate(-90)" stroke="#333" stroke-width="0.12">Survival probability</text>
<text x="189.90" y="149.80" font-size="5.3" fill="#222" stroke="#222" stroke-width="0.16" font-family="'Liberation Serif', serif" text-anchor="middle" >2825</text>
<text x="337.70" y="149.80" font-size="5.3" fill="#222" stroke="#222" stroke-width="0.16" font-family="'Liberation Serif', serif" text-anchor="middle" >5651</text>
<text x="307.00" y="17.00" font-size="5.0" fill="#222" stroke="#222" stroke-width="0.12" font-family="'Liberation Serif', serif" text-anchor="start" >High_Risk</text>
<text x="313.60" y="22.60" font-size="4.9" fill="#4DBBD5" stroke="#4DBBD5" stroke-width="0.12" font-family="'Liberation Serif', serif" text-anchor="start" >High_Risk</text>
<text x="313.60" y="29.20" font-size="4.9" fill="#E64B35" stroke="#E64B35" stroke-width="0.12" font-family="'Liberation Serif', serif" text-anchor="start" >Low_Risk</text>
<text x="52.80" y="122.00" font-size="16.9" fill="#111" stroke="#111" stroke-width="0.3" font-family="'Liberation Serif', serif" text-anchor="start" >Age&lt;60 year</text>
<text x="40.70" y="140.80" font-size="5.0" fill="#222" stroke="#222" stroke-width="0.12" font-family="'Liberation Serif', serif" text-anchor="start" >p=0.01</text>
<text x="40.70" y="148.90" font-size="5.0" fill="#222" stroke="#222" stroke-width="0.12" font-family="'Liberation Serif', serif" text-anchor="start" >HR=0.33,95%CI(0.13,0.84)</text>
<text x="39.00" y="158.60" font-size="4.9" fill="#111" stroke="#111" stroke-width="0.12" font-family="'Liberation Serif', serif" text-anchor="start" >Number at risk</text>
<text x="35.80" y="167.00" font-size="4.8" fill="#4DBBD5" stroke="#4DBBD5" stroke-width="0.12" font-family="'Liberation Serif', serif" text-anchor="end" >High_Risk</text>
<text x="42.30" y="167.10" font-size="5.0" fill="#4DBBD5" stroke="#4DBBD5" stroke-width="0.12" font-family="'Liberation Serif', serif" text-anchor="middle" >59</text>
<text x="116.30" y="167.10" font-size="5.0" fill="#4DBBD5" stroke="#4DBBD5" stroke-width="0.12" font-family="'Liberation Serif', serif" text-anchor="middle" >13</text>
<text x="190.30" y="167.10" font-size="5.0" fill="#4DBBD5" stroke="#4DBBD5" stroke-width="0.12" font-family="'Liberation Serif', serif" text-anchor="middle" >1</text>
<text x="264.30" y="167.10" font-size="5.0" fill="#4DBBD5" stroke="#4DBBD5" stroke-width="0.12" font-family="'Liberation Serif', serif" text-anchor="middle" >1</text>
<text x="338.30" y="167.10" font-size="5.0" fill="#4DBBD5" stroke="#4DBBD5" stroke-width="0.12" font-family="'Liberation Serif', serif" text-anchor="middle" >1</text>
<text x="35.80" y="175.30" font-size="4.8" fill="#E64B35" stroke="#E64B35" stroke-width="0.12" font-family="'Liberation Serif', serif" text-anchor="end" >Low_Risk</text>
<text x="42.30" y="175.40" font-size="5.0" fill="#E64B35" stroke="#E64B35" stroke-width="0.12" font-family="'Liberation Serif', serif" text-anchor="middle" >118</text>
<text x="116.30" y="175.40" font-size="5.0" fill="#E64B35" stroke="#E64B35" stroke-width="0.12" font-family="'Liberation Serif', serif" text-anchor="middle" >51</text>
<text x="190.30" y="175.40" font-size="5.0" fill="#E64B35" stroke="#E64B35" stroke-width="0.12" font-family="'Liberation Serif', serif" text-anchor="middle" >6</text>
<text x="264.30" y="175.40" font-size="5.0" fill="#E64B35" stroke="#E64B35" stroke-width="0.12" font-family="'Liberation Serif', serif" text-anchor="middle" >2</text>
<text x="338.30" y="175.40" font-size="5.0" fill="#E64B35" stroke="#E64B35" stroke-width="0.12" font-family="'Liberation Serif', serif" text-anchor="middle" >1</text>
<text x="42.30" y="184.30" font-size="4.8" fill="#333" stroke="#333" stroke-width="0.14" font-family="'Liberation Sans', sans-serif" text-anchor="middle" >0</text>
<text x="116.30" y="184.30" font-size="4.8" fill="#333" stroke="#333" stroke-width="0.14" font-family="'Liberation Sans', sans-serif" text-anchor="middle" >1,412</text>
<text x="190.30" y="184.30" font-size="4.8" fill="#333" stroke="#333" stroke-width="0.14" font-family="'Liberation Sans', sans-serif" text-anchor="middle" >2,824</text>
<text x="264.30" y="184.30" font-size="4.8" fill="#333" stroke="#333" stroke-width="0.14" font-family="'Liberation Sans', sans-serif" text-anchor="middle" >4,236</text>
<text x="338.30" y="184.30" font-size="4.8" fill="#333" stroke="#333" stroke-width="0.14" font-family="'Liberation Sans', sans-serif" text-anchor="middle" >5,648</text>
<text x="190.30" y="189.40" font-size="5.8" fill="#222" stroke="#222" stroke-width="0.14" font-family="'Liberation Sans', sans-serif" text-anchor="middle" >911</text>
</g>
<g transform="translate(0,200.2)">
<text x="0.60" y="12.80" font-size="16.6" fill="#000" stroke="#000" stroke-width="0.3" font-family="'Liberation Serif', serif" text-anchor="start" >C</text>
<text x="34.60" y="18.90" font-size="4.8" fill="#333" stroke="#333" stroke-width="0.14" font-family="'Liberation Sans', sans-serif" text-anchor="end" >1.0</text>
<text x="34.60" y="50.80" font-size="4.8" fill="#333" stroke="#333" stroke-width="0.14" font-family="'Liberation Sans', sans-serif" text-anchor="end" >0.8</text>
<text x="34.60" y="82.70" font-size="4.8" fill="#333" stroke="#333" stroke-width="0.14" font-family="'Liberation Sans', sans-serif" text-anchor="end" >0.5</text>
<text x="34.60" y="114.60" font-size="4.8" fill="#333" stroke="#333" stroke-width="0.14" font-family="'Liberation Sans', sans-serif" text-anchor="end" >0.3</text>
<text x="34.60" y="146.50" font-size="4.8" fill="#333" stroke="#333" stroke-width="0.14" font-family="'Liberation Sans', sans-serif" text-anchor="end" >0.0</text>
<text x="0" y="0" font-size="4.9" fill="#333" font-family="'Liberation Serif', serif" text-anchor="middle" transform="translate(26.6,80.6) rotate(-90)" stroke="#333" stroke-width="0.12">Survival probability</text>
<text x="254.00" y="149.80" font-size="5.3" fill="#222" stroke="#222" stroke-width="0.16" font-family="'Liberation Serif', serif" text-anchor="middle" >2972</text>
<text x="338.00" y="149.80" font-size="5.3" fill="#222" stroke="#222" stroke-width="0.16" font-family="'Liberation Serif', serif" text-anchor="middle" >4155</text>
<text x="307.00" y="17.00" font-size="5.0" fill="#222" stroke="#222" stroke-width="0.12" font-family="'Liberation Serif', serif" text-anchor="start" >Low_Risk</text>
<text x="313.60" y="22.60" font-size="4.9" fill="#4DBBD5" stroke="#4DBBD5" stroke-width="0.12" font-family="'Liberation Serif', serif" text-anchor="start" >High_Risk</text>
<text x="313.60" y="29.20" font-size="4.9" fill="#E64B35" stroke="#E64B35" stroke-width="0.12" font-family="'Liberation Serif', serif" text-anchor="start" >Low_Risk</text>
<text x="57.20" y="123.70" font-size="16.9" fill="#111" stroke="#111" stroke-width="0.3" font-family="'Liberation Serif', serif" text-anchor="start" >BMI&gt;30</text>
<text x="40.70" y="140.80" font-size="5.0" fill="#222" stroke="#222" stroke-width="0.12" font-family="'Liberation Serif', serif" text-anchor="start" >p=4.6e-3</text>
<text x="40.70" y="148.90" font-size="5.0" fill="#222" stroke="#222" stroke-width="0.12" font-family="'Liberation Serif', serif" text-anchor="start" >HR=0.42,95%CI(0.23,0.78)</text>
<text x="39.00" y="158.60" font-size="4.9" fill="#111" stroke="#111" stroke-width="0.12" font-family="'Liberation Serif', serif" text-anchor="start" >Number at risk</text>
<text x="35.80" y="167.00" font-size="4.8" fill="#4DBBD5" stroke="#4DBBD5" stroke-width="0.12" font-family="'Liberation Serif', serif" text-anchor="end" >High_Risk</text>
<text x="42.30" y="167.10" font-size="5.0" fill="#4DBBD5" stroke="#4DBBD5" stroke-width="0.12" font-family="'Liberation Serif', serif" text-anchor="middle" >149</text>
<text x="116.30" y="167.10" font-size="5.0" fill="#4DBBD5" stroke="#4DBBD5" stroke-width="0.12" font-family="'Liberation Serif', serif" text-anchor="middle" >59</text>
<text x="190.30" y="167.10" font-size="5.0" fill="#4DBBD5" stroke="#4DBBD5" stroke-width="0.12" font-family="'Liberation Serif', serif" text-anchor="middle" >22</text>
<text x="264.30" y="167.10" font-size="5.0" fill="#4DBBD5" stroke="#4DBBD5" stroke-width="0.12" font-family="'Liberation Serif', serif" text-anchor="middle" >2</text>
<text x="338.30" y="167.10" font-size="5.0" fill="#4DBBD5" stroke="#4DBBD5" stroke-width="0.12" font-family="'Liberation Serif', serif" text-anchor="middle" >1</text>
<text x="35.80" y="175.30" font-size="4.8" fill="#E64B35" stroke="#E64B35" stroke-width="0.12" font-family="'Liberation Serif', serif" text-anchor="end" >Low_Risk</text>
<text x="42.30" y="175.40" font-size="5.0" fill="#E64B35" stroke="#E64B35" stroke-width="0.12" font-family="'Liberation Serif', serif" text-anchor="middle" >150</text>
<text x="116.30" y="175.40" font-size="5.0" fill="#E64B35" stroke="#E64B35" stroke-width="0.12" font-family="'Liberation Serif', serif" text-anchor="middle" >63</text>
<text x="190.30" y="175.40" font-size="5.0" fill="#E64B35" stroke="#E64B35" stroke-width="0.12" font-family="'Liberation Serif', serif" text-anchor="middle" >16</text>
<text x="264.30" y="175.40" font-size="5.0" fill="#E64B35" stroke="#E64B35" stroke-width="0.12" font-family="'Liberation Serif', serif" text-anchor="middle" >2</text>
<text x="338.30" y="175.40" font-size="5.0" fill="#E64B35" stroke="#E64B35" stroke-width="0.12" font-family="'Liberation Serif', serif" text-anchor="middle" >1</text>
<text x="42.30" y="184.30" font-size="4.8" fill="#333" stroke="#333" stroke-width="0.14" font-family="'Liberation Sans', sans-serif" text-anchor="middle" >0</text>
<text x="116.30" y="184.30" font-size="4.8" fill="#333" stroke="#333" stroke-width="0.14" font-family="'Liberation Sans', sans-serif" text-anchor="middle" >1,038</text>
<text x="190.30" y="184.30" font-size="4.8" fill="#333" stroke="#333" stroke-width="0.14" font-family="'Liberation Sans', sans-serif" text-anchor="middle" >2,076</text>
<text x="264.30" y="184.30" font-size="4.8" fill="#333" stroke="#333" stroke-width="0.14" font-family="'Liberation Sans', sans-serif" text-anchor="middle" >3,114</text>
<text x="338.30" y="184.30" font-size="4.8" fill="#333" stroke="#333" stroke-width="0.14" font-family="'Liberation Sans', sans-serif" text-anchor="middle" >4,152</text>
<text x="190.30" y="189.40" font-size="5.8" fill="#222" stroke="#222" stroke-width="0.14" font-family="'Liberation Sans', sans-serif" text-anchor="middle" >2020</text>
</g>
<g transform="translate(341.0,200.2)">
<text x="5.90" y="12.60" font-size="16.6" fill="#000" stroke="#000" stroke-width="0.3" font-family="'Liberation Serif', serif" text-anchor="start" >D</text>
<text x="34.60" y="18.90" font-size="4.8" fill="#333" stroke="#333" stroke-width="0.14" font-family="'Liberation Sans', sans-serif" text-anchor="end" >1.0</text>
<text x="34.60" y="50.80" font-size="4.8" fill="#333" stroke="#333" stroke-width="0.14" font-family="'Liberation Sans', sans-serif" text-anchor="end" >0.8</text>
<text x="34.60" y="82.70" font-size="4.8" fill="#333" stroke="#333" stroke-width="0.14" font-family="'Liberation Sans', sans-serif" text-anchor="end" >0.5</text>
<text x="34.60" y="114.60" font-size="4.8" fill="#333" stroke="#333" stroke-width="0.14" font-family="'Liberation Sans', sans-serif" text-anchor="end" >0.3</text>
<text x="34.60" y="146.50" font-size="4.8" fill="#333" stroke="#333" stroke-width="0.14" font-family="'Liberation Sans', sans-serif" text-anchor="end" >0.0</text>
<text x="0" y="0" font-size="4.9" fill="#333" font-family="'Liberation Serif', serif" text-anchor="middle" transform="translate(26.6,80.6) rotate(-90)" stroke="#333" stroke-width="0.12">Survival probability</text>
<text x="226.80" y="149.80" font-size="5.3" fill="#222" stroke="#222" stroke-width="0.16" font-family="'Liberation Serif', serif" text-anchor="middle" >2845</text>
<text x="337.70" y="149.80" font-size="5.3" fill="#222" stroke="#222" stroke-width="0.16" font-family="'Liberation Serif', serif" text-anchor="middle" >4549</text>
<text x="307.00" y="17.00" font-size="5.0" fill="#222" stroke="#222" stroke-width="0.12" font-family="'Liberation Serif', serif" text-anchor="start" >Low_Risk</text>
<text x="313.60" y="22.60" font-size="4.9" fill="#E64B35" stroke="#E64B35" stroke-width="0.12" font-family="'Liberation Serif', serif" text-anchor="start" >Low_Risk</text>
<text x="313.60" y="29.20" font-size="4.9" fill="#4DBBD5" stroke="#4DBBD5" stroke-width="0.12" font-family="'Liberation Serif', serif" text-anchor="start" >High_Risk</text>
<text x="68.30" y="123.50" font-size="16.9" fill="#111" stroke="#111" stroke-width="0.3" font-family="'Liberation Serif', serif" text-anchor="start" >BMI&lt;30</text>
<text x="40.70" y="140.80" font-size="5.0" fill="#222" stroke="#222" stroke-width="0.12" font-family="'Liberation Serif', serif" text-anchor="start" >p=2.3e-3</text>
<text x="40.70" y="148.90" font-size="5.0" fill="#222" stroke="#222" stroke-width="0.12" font-family="'Liberation Serif', serif" text-anchor="start" >HR=2.91,95%CI(1.42,5.97)</text>
<text x="39.00" y="158.60" font-size="4.9" fill="#111" stroke="#111" stroke-width="0.12" font-family="'Liberation Serif', serif" text-anchor="start" >Number at risk</text>
<text x="35.80" y="167.00" font-size="4.8" fill="#E64B35" stroke="#E64B35" stroke-width="0.12" font-family="'Liberation Serif', serif" text-anchor="end" >Low_Risk</text>
<text x="42.30" y="167.10" font-size="5.0" fill="#E64B35" stroke="#E64B35" stroke-width="0.12" font-family="'Liberation Serif', serif" text-anchor="middle" >185</text>
<text x="116.30" y="167.10" font-size="5.0" fill="#E64B35" stroke="#E64B35" stroke-width="0.12" font-family="'Liberation Serif', serif" text-anchor="middle" >51</text>
<text x="190.30" y="167.10" font-size="5.0" fill="#E64B35" stroke="#E64B35" stroke-width="0.12" font-family="'Liberation Serif', serif" text-anchor="middle" >22</text>
<text x="264.30" y="167.10" font-size="5.0" fill="#E64B35" stroke="#E64B35" stroke-width="0.12" font-family="'Liberation Serif', serif" text-anchor="middle" >4</text>
<text x="338.30" y="167.10" font-size="5.0" fill="#E64B35" stroke="#E64B35" stroke-width="0.12" font-family="'Liberation Serif', serif" text-anchor="middle" >1</text>
<text x="35.80" y="175.30" font-size="4.8" fill="#4DBBD5" stroke="#4DBBD5" stroke-width="0.12" font-family="'Liberation Serif', serif" text-anchor="end" >High_Risk</text>
<text x="42.30" y="175.40" font-size="5.0" fill="#4DBBD5" stroke="#4DBBD5" stroke-width="0.12" font-family="'Liberation Serif', serif" text-anchor="middle" >190</text>
<text x="116.30" y="175.40" font-size="5.0" fill="#4DBBD5" stroke="#4DBBD5" stroke-width="0.12" font-family="'Liberation Serif', serif" text-anchor="middle" >28</text>
<text x="190.30" y="175.40" font-size="5.0" fill="#4DBBD5" stroke="#4DBBD5" stroke-width="0.12" font-family="'Liberation Serif', serif" text-anchor="middle" >7</text>
<text x="264.30" y="175.40" font-size="5.0" fill="#4DBBD5" stroke="#4DBBD5" stroke-width="0.12" font-family="'Liberation Serif', serif" text-anchor="middle" >1</text>
<text x="338.30" y="175.40" font-size="5.0" fill="#4DBBD5" stroke="#4DBBD5" stroke-width="0.12" font-family="'Liberation Serif', serif" text-anchor="middle" >1</text>
<text x="42.30" y="184.30" font-size="4.8" fill="#333" stroke="#333" stroke-width="0.14" font-family="'Liberation Sans', sans-serif" text-anchor="middle" >0</text>
<text x="116.30" y="184.30" font-size="4.8" fill="#333" stroke="#333" stroke-width="0.14" font-family="'Liberation Sans', sans-serif" text-anchor="middle" >1,137</text>
<text x="190.30" y="184.30" font-size="4.8" fill="#333" stroke="#333" stroke-width="0.14" font-family="'Liberation Sans', sans-serif" text-anchor="middle" >2,274</text>
<text x="264.30" y="184.30" font-size="4.8" fill="#333" stroke="#333" stroke-width="0.14" font-family="'Liberation Sans', sans-serif" text-anchor="middle" >3,411</text>
<text x="338.30" y="184.30" font-size="4.8" fill="#333" stroke="#333" stroke-width="0.14" font-family="'Liberation Sans', sans-serif" text-anchor="middle" >4,548</text>
<text x="190.30" y="189.40" font-size="5.8" fill="#222" stroke="#222" stroke-width="0.14" font-family="'Liberation Sans', sans-serif" text-anchor="middle" >544</text>
</g>
</g></svg>
</body></html>
